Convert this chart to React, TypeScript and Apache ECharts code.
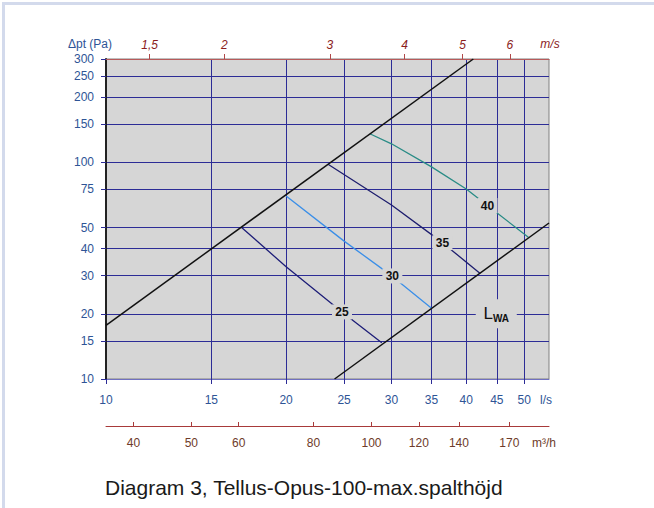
import { useEffect, useRef } from "react";
import * as echarts from "echarts";

// Axis ticks
const flowTicks = [10, 15, 20, 25, 30, 35, 40, 45, 50]; // l/s
const pressureTicks = [10, 15, 20, 30, 40, 50, 75, 100, 150, 200, 250, 300]; // Pa
const velocityTicks = [1.5, 2, 3, 4, 5, 6]; // m/s
const airflowM3hTicks = [40, 50, 60, 80, 100, 120, 140, 170]; // m³/h

const flowRange = [10, 55];
const pressureRange = [10, 300];
const velocityPerLps = 0.1268; // duct velocity (m/s) per l/s
const m3hPerLps = 3.6;

// Working-range limits (max / min slot height)
const upperLimit = [
  [10, 17.7],
  [41.1, 300],
];
const lowerLimit = [
  [24.1, 10],
  [55, 52.5],
];

// Sound power level curves, LWA dB(A)
const lwa25 = [
  [16.85, 50],
  [20, 33],
  [24.8, 20.4],
  [28.9, 14.7],
];
const lwa30 = [
  [20, 70],
  [25, 43.3],
  [30, 30],
  [35, 21.2],
];
const lwa35 = [
  [23.5, 98],
  [30, 63.6],
  [36.5, 42.6],
  [42.2, 30.7],
];
const lwa40 = [
  [27.6, 135.5],
  [30, 121.8],
  [35, 95.3],
  [40, 75.4],
  [43.4, 63.2],
  [50.8, 45.1],
];

const levelNames = ["25", "30", "35", "40"];
const levelLabelAt = [
  [24.8, 20.4],
  [30.1, 29.9],
  [36.5, 42.6],
  [43.4, 63.2],
];
const lwaLabelAt = [44.9, 20];

const FONT = "'Liberation Sans', Arial, Helvetica, sans-serif";
const PLOT_BG = "#d6d6d6";
const GRID_LINE = "#2c2c96";
const BLUE_TEXT = "#2e5496";

export default function App() {
  const ref = useRef<HTMLDivElement>(null);

  useEffect(() => {
    if (!ref.current) return;
    const chart = echarts.init(ref.current, undefined, { renderer: "svg" });

    const curves = [
      { data: lwa25, color: "#1e1e78" },
      { data: lwa30, color: "#3b8fe8" },
      { data: lwa35, color: "#1e1e6e" },
      { data: lwa40, color: "#2a8c86" },
    ];

    const levelSeries = curves.map((c, i) => ({
      type: "line",
      data: c.data,
      showSymbol: false,
      symbol: "none",
      lineStyle: { color: c.color, width: 1.3 },
      z: 3,
      markPoint: {
        symbol: "rect",
        symbolSize: [20, 15],
        itemStyle: { color: PLOT_BG },
        label: {
          show: true,
          position: "inside",
          formatter: levelNames[i],
          color: "#111",
          fontFamily: FONT,
          fontWeight: "bold",
          fontSize: 12,
        },
        data: [{ coord: levelLabelAt[i], value: levelNames[i] }],
      },
    }));

    chart.setOption({
      animation: false,
      textStyle: { fontFamily: FONT },
      grid: {
        left: 106,
        top: 59,
        right: 105,
        bottom: 129,
        show: true,
        backgroundColor: PLOT_BG,
        borderColor: "#808080",
        borderWidth: 1,
        containLabel: false,
        outerBoundsMode: "none",
      },
      xAxis: [
        {
          type: "log",
          logBase: 10,
          min: flowRange[0],
          max: flowRange[1],
          position: "bottom",
          axisLine: { show: true, lineStyle: { color: "#7070c0", width: 1 } },
          axisTick: {
            show: true,
            customValues: flowTicks,
            length: 5,
            lineStyle: { color: GRID_LINE },
          },
          axisLabel: {
            customValues: flowTicks,
            color: BLUE_TEXT,
            fontSize: 12,
            margin: 15,
            formatter: (v: number) => String(Math.round(v)),
          },
          splitLine: { show: true, lineStyle: { color: GRID_LINE, width: 1 } },
        },
        {
          type: "log",
          logBase: 10,
          min: flowRange[0] * velocityPerLps,
          max: flowRange[1] * velocityPerLps,
          position: "top",
          axisLine: { show: true, lineStyle: { color: "#b85a5a", width: 1 } },
          axisTick: {
            show: true,
            customValues: velocityTicks,
            length: 5,
            lineStyle: { color: "#b04848" },
          },
          axisLabel: {
            customValues: velocityTicks,
            color: "#8b1c1c",
            fontSize: 12,
            fontStyle: "italic",
            margin: 8,
            formatter: (v: number) => String(Math.round(v * 10) / 10).replace(".", ","),
          },
          splitLine: { show: false },
        },
        {
          type: "log",
          logBase: 10,
          min: flowRange[0] * m3hPerLps,
          max: flowRange[1] * m3hPerLps,
          position: "bottom",
          offset: 47,
          axisLine: { show: true, lineStyle: { color: "#a83a3a", width: 1 } },
          axisTick: {
            show: true,
            inside: true,
            customValues: airflowM3hTicks,
            length: 4,
            lineStyle: { color: "#a83a3a" },
          },
          axisLabel: {
            customValues: airflowM3hTicks,
            color: "#6e3b2a",
            fontSize: 12,
            margin: 11,
            formatter: (v: number) => String(Math.round(v)),
          },
          splitLine: { show: false },
        },
      ],
      yAxis: {
        type: "log",
        logBase: 10,
        min: pressureRange[0],
        max: pressureRange[1],
        axisLine: { show: true, lineStyle: { color: "#222", width: 2 } },
        axisTick: {
          show: true,
          customValues: pressureTicks,
          length: 5,
          lineStyle: { color: GRID_LINE },
        },
        axisLabel: {
          customValues: pressureTicks,
          color: BLUE_TEXT,
          fontSize: 12,
          margin: 12,
          formatter: (v: number) => String(Math.round(v)),
        },
        splitLine: { show: true, lineStyle: { color: GRID_LINE, width: 1 } },
      },
      series: [
        {
          type: "line",
          data: upperLimit,
          showSymbol: false,
          symbol: "none",
          lineStyle: { color: "#111", width: 1.5 },
          z: 4,
        },
        {
          type: "line",
          data: lowerLimit,
          showSymbol: false,
          symbol: "none",
          lineStyle: { color: "#111", width: 1.5 },
          z: 4,
          markPoint: {
            symbol: "rect",
            symbolSize: [41, 29],
            itemStyle: { color: PLOT_BG },
            label: {
              show: true,
              position: "inside",
              formatter: "{l|L}{s|WA}",
              rich: {
                l: { fontSize: 17, color: "#111", fontFamily: FONT },
                s: {
                  fontSize: 10,
                  fontWeight: "bold",
                  color: "#111",
                  fontFamily: FONT,
                  padding: [9, 0, 0, 0],
                },
              },
            },
            data: [{ coord: lwaLabelAt }],
          },
        },
        ...levelSeries,
      ],
      graphic: [
        { type: "rect", shape: { x: 2, y: 2, width: 652, height: 3 }, style: { fill: "#d3daec" } },
        { type: "rect", shape: { x: 2, y: 2, width: 3, height: 506 }, style: { fill: "#d3daec" } },
        {
          type: "text",
          x: 90,
          y: 44,
          style: { text: "Δpt (Pa)", fill: BLUE_TEXT, font: `12px ${FONT}`, align: "center", verticalAlign: "middle" },
        },
        {
          type: "text",
          x: 550,
          y: 44,
          style: { text: "m/s", fill: "#8b1c1c", font: `italic 12px ${FONT}`, align: "center", verticalAlign: "middle" },
        },
        {
          type: "text",
          x: 546,
          y: 400,
          style: { text: "l/s", fill: BLUE_TEXT, font: `12px ${FONT}`, align: "center", verticalAlign: "middle" },
        },
        {
          type: "text",
          x: 544,
          y: 443,
          style: { text: "m³/h", fill: "#6e3b2a", font: `12px ${FONT}`, align: "center", verticalAlign: "middle" },
        },
        {
          type: "text",
          x: 105,
          y: 487,
          style: {
            text: "Diagram 3, Tellus-Opus-100-max.spalthöjd",
            fill: "#1a1a1a",
            font: `21px ${FONT}`,
            align: "left",
            verticalAlign: "middle",
          },
        },
      ],
    });

    return () => chart.dispose();
  }, []);

  return (
    <div
      ref={ref}
      style={{ position: "fixed", left: 0, top: 0, width: 654, height: 508, background: "#fff" }}
    />
  );
}
